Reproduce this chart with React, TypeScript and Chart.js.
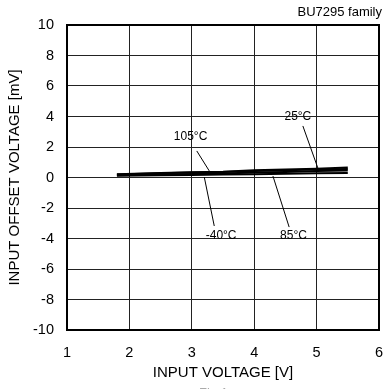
import React, { useEffect, useRef } from "react";
import { Chart, registerables } from "chart.js";

Chart.register(...registerables);

const voltages = [1.8, 2.5, 3.0, 3.5, 4.0, 4.5, 5.0, 5.5];
const offset25 = [0.22, 0.3, 0.35, 0.38, 0.47, 0.52, 0.58, 0.65];
const offset105 = [0.2, 0.28, 0.32, 0.36, 0.43, 0.47, 0.52, 0.56];
const offset85 = [0.15, 0.2, 0.23, 0.27, 0.32, 0.36, 0.42, 0.46];
const offsetM40 = [0.12, 0.15, 0.17, 0.19, 0.22, 0.25, 0.28, 0.3];

const seriesNames = ["25°C", "105°C", "85°C", "-40°C"];
const seriesValues = [offset25, offset105, offset85, offsetM40];

// label anchors in data units: [labelX, labelY, lineFromX, lineFromY, lineToX, lineToY]
const labelTexts = ["25°C", "105°C", "-40°C", "85°C"];
const labelAnchors = [
  [4.7, 4.0, 4.78, 3.38, 5.02, 0.62],
  [2.98, 2.68, 3.08, 1.74, 3.28, 0.43],
  [3.47, -3.82, 3.2, 0.03, 3.36, -3.18],
  [4.63, -3.82, 4.3, 0.1, 4.56, -3.25],
];

const FONT = "'Liberation Sans', Arial, sans-serif";

export default function App() {
  const ref = useRef<HTMLCanvasElement | null>(null);

  useEffect(() => {
    const canvas = ref.current;
    if (!canvas) return;

    const overlay = {
      id: "overlay",
      afterDatasetsDraw(chart: any) {
        const ctx = chart.ctx;
        const xs = chart.scales.x;
        const ys = chart.scales.y;
        const a = chart.chartArea;
        ctx.save();
        // frame
        ctx.strokeStyle = "#000";
        ctx.lineWidth = 2;
        ctx.strokeRect(a.left, a.top, a.right - a.left, a.bottom - a.top);
        // annotations
        ctx.lineWidth = 1;
        ctx.fillStyle = "#000";
        ctx.font = `12px ${FONT}`;
        ctx.textAlign = "center";
        ctx.textBaseline = "middle";
        labelAnchors.forEach((p, i) => {
          ctx.beginPath();
          ctx.moveTo(xs.getPixelForValue(p[2]), ys.getPixelForValue(p[3]));
          ctx.lineTo(xs.getPixelForValue(p[4]), ys.getPixelForValue(p[5]));
          ctx.stroke();
          ctx.fillText(labelTexts[i], xs.getPixelForValue(p[0]), ys.getPixelForValue(p[1]));
        });
        // header
        ctx.font = `13px ${FONT}`;
        ctx.textAlign = "right";
        ctx.fillText("BU7295 family", 382, 12);
        // cut-off caption
        ctx.fillStyle = "#aaa";
        ctx.textAlign = "left";
        ctx.textBaseline = "top";
        ctx.font = `13px ${FONT}`;
        ctx.fillText("Fig.1", 199, 387);
        ctx.restore();
      },
    };

    const chart = new Chart(canvas, {
      type: "scatter",
      data: {
        datasets: seriesValues.map((vals, i) => ({
          label: seriesNames[i],
          data: voltages.map((v, j) => ({ x: v, y: vals[j] })),
          showLine: true,
          borderColor: "#000",
          backgroundColor: "#000",
          borderWidth: 2,
          pointRadius: 0,
          tension: 0,
        })),
      },
      options: {
        animation: false,
        responsive: false,
        maintainAspectRatio: false,
        layout: { padding: { left: 0, right: 8, top: 25, bottom: 0 } },
        plugins: {
          legend: { display: false },
          tooltip: { enabled: false },
        },
        scales: {
          x: {
            type: "linear",
            min: 1,
            max: 6,
            afterFit: (s: any) => {
              s.height = 59;
              s.paddingLeft = 0;
              s.paddingRight = 0;
            },
            ticks: {
              stepSize: 1,
              color: "#000",
              padding: 14,
              font: { family: FONT, size: 14.5 },
              maxRotation: 0,
            },
            grid: { color: "#222", lineWidth: 1, drawTicks: false },
            border: { display: false },
            title: {
              display: true,
              text: "INPUT VOLTAGE [V]",
              color: "#000",
              font: { family: FONT, size: 15 },
              padding: { top: 0, bottom: 7 },
            },
          },
          y: {
            type: "linear",
            min: -10,
            max: 10,
            afterFit: (s: any) => {
              s.width = 67;
              s.paddingTop = 0;
              s.paddingBottom = 0;
            },
            ticks: {
              stepSize: 2,
              color: "#000",
              padding: 13,
              font: { family: FONT, size: 14.5 },
            },
            grid: { color: "#222", lineWidth: 1, drawTicks: false },
            border: { display: false },
            title: {
              display: true,
              text: "INPUT OFFSET VOLTAGE [mV]",
              color: "#000",
              font: { family: FONT, size: 15 },
              padding: { top: 6, bottom: 0 },
            },
          },
        },
      },
      plugins: [overlay],
    });

    return () => chart.destroy();
  }, []);

  return (
    <div style={{ position: "fixed", left: 0, top: 0, width: 387, height: 389, background: "#fff" }}>
      <canvas ref={ref} width={387} height={389} style={{ width: 387, height: 389, display: "block" }} />
    </div>
  );
}
